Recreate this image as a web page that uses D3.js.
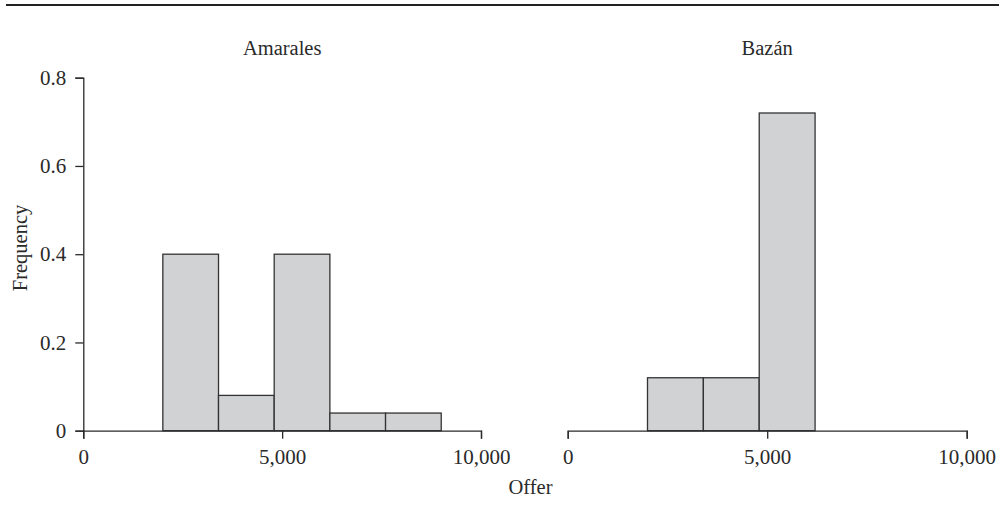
<!DOCTYPE html>
<html>
<head>
<meta charset="utf-8">
<script src="https://cdn.jsdelivr.net/npm/d3@7"></script>
<style>
  html, body { margin: 0; padding: 0; background: #fff; }
  svg { display: block; }
  text { font-family: "Liberation Serif", "DejaVu Serif", serif; fill: #2a2a2a; }
</style>
</head>
<body>
<svg id="chart" width="1006" height="524"></svg>
<script>
// Histogram bin edges (offer amounts) shared by both panels
const binEdges = [2000, 3400, 4800, 6200, 7600, 9000];

// Relative frequency per bin
const amaralesFreq = [0.40, 0.08, 0.40, 0.04, 0.04];
const bazanFreq = [0.12, 0.12, 0.72, 0, 0];

const panelNames = ["Amarales", "Bazán"];
const xTicks = [0, 5000, 10000];
const yTicks = [0, 0.2, 0.4, 0.6, 0.8];

const svg = d3.select("#chart");
const ink = "#2a2a2a";
const fontSize = 20.5;
const tickFontSize = 21;

// Rule across the top
svg.append("line")
  .attr("x1", 6).attr("x2", 999)
  .attr("y1", 5).attr("y2", 5)
  .attr("stroke", "#222").attr("stroke-width", 2);

const y = d3.scaleLinear().domain([0, 0.8]).range([430.7, 77.7]);

const panels = [
  { name: panelNames[0], freq: amaralesFreq, x0: 83.3, x1: 481, yAxis: true },
  { name: panelNames[1], freq: bazanFreq, x0: 567.7, x1: 966.7, yAxis: false }
];

const fmt = d3.format(",");

panels.forEach(p => {
  const x = d3.scaleLinear().domain([0, 10000]).range([p.x0, p.x1]);
  const g = svg.append("g");

  const bins = p.freq.map((f, i) => ({ lo: binEdges[i], hi: binEdges[i + 1], f }))
    .filter(b => b.f > 0);

  g.selectAll("rect.bar").data(bins).enter().append("rect")
    .attr("class", "bar")
    .attr("x", d => x(d.lo))
    .attr("width", d => x(d.hi) - x(d.lo))
    .attr("y", d => y(d.f))
    .attr("height", d => y(0) - y(d.f))
    .attr("fill", "#d1d2d4")
    .attr("stroke", "#333")
    .attr("stroke-width", 1.3);

  // x axis
  const xa = g.append("g")
    .attr("transform", `translate(0,${y(0)})`)
    .call(d3.axisBottom(x).tickValues(xTicks).tickFormat(fmt).tickSizeOuter(0).tickSize(8).tickPadding(8));
  xa.select(".domain").attr("stroke", ink).attr("stroke-width", 1.3);
  xa.selectAll(".tick line").attr("stroke", ink).attr("stroke-width", 1.3);
  xa.selectAll(".tick text")
    .attr("font-size", tickFontSize)
    .attr("font-family", "Liberation Serif, serif")
    .attr("fill", ink)
    .attr("dy", "0.82em");

  if (p.yAxis) {
    const ya = g.append("g")
      .attr("transform", `translate(${p.x0},0)`)
      .call(d3.axisLeft(y).tickValues(yTicks).tickFormat(d => d === 0 ? "0" : d3.format(".1f")(d)).tickSizeOuter(0).tickSize(8).tickPadding(9));
    ya.select(".domain").attr("stroke", ink).attr("stroke-width", 1.3);
    ya.selectAll(".tick line").attr("stroke", ink).attr("stroke-width", 1.3);
    ya.selectAll(".tick text")
      .attr("font-size", tickFontSize)
      .attr("font-family", "Liberation Serif, serif")
      .attr("fill", ink);
  }

  // Panel title
  g.append("text")
    .attr("x", (p.x0 + p.x1) / 2)
    .attr("y", 55)
    .attr("text-anchor", "middle")
    .attr("font-size", fontSize)
    .text(p.name);
});

// Axis titles
svg.append("text")
  .attr("x", 530.5).attr("y", 494)
  .attr("text-anchor", "middle")
  .attr("font-size", fontSize)
  .text("Offer");

svg.append("text")
  .attr("transform", "translate(27,248) rotate(-90)")
  .attr("text-anchor", "middle")
  .attr("font-size", fontSize)
  .text("Frequency");
</script>
</body>
</html>
